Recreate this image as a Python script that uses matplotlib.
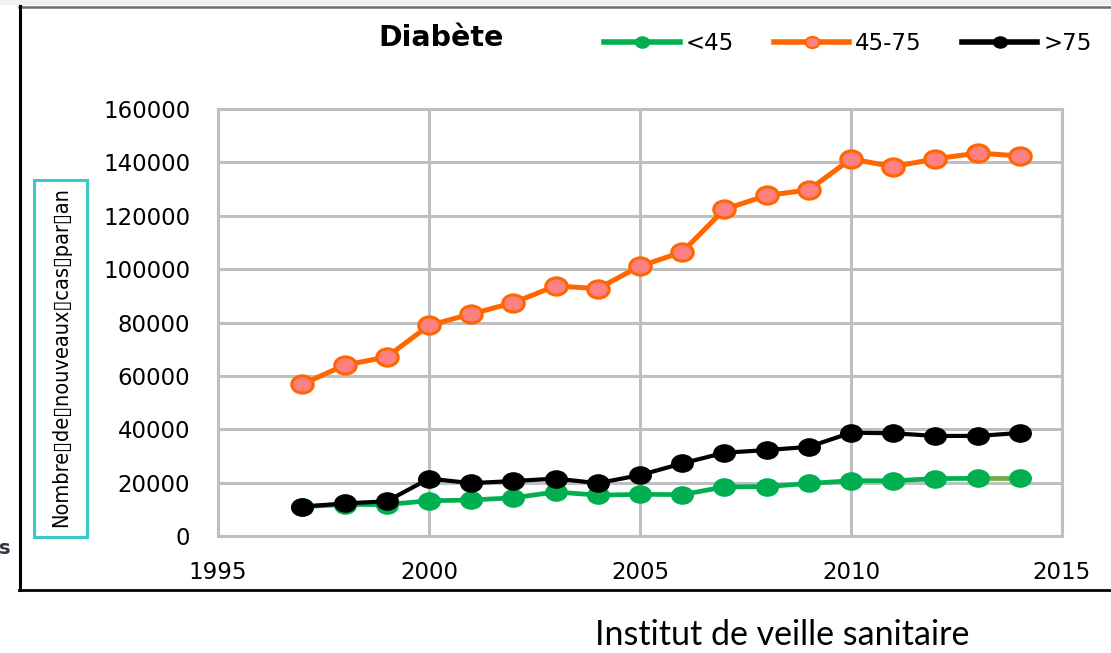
import numpy as np
import matplotlib
matplotlib.use('Agg')
import matplotlib.pyplot as plt
from matplotlib.path import Path
from matplotlib.patches import Rectangle
from matplotlib.lines import Line2D
from matplotlib import font_manager as fm

# ---------------- data ----------------
years = list(range(1997, 2015))
lt45 = [11000, 11800, 11800, 13200, 13500, 14300, 16500, 15300, 15600, 15500,
        18400, 18500, 19700, 20700, 20700, 21500, 21600, 21600]
mid45_75 = [56900, 64000, 67100, 78900, 83200, 87400, 93700, 92700, 101100, 106400,
            122400, 127600, 129700, 141300, 138400, 141300, 143500, 142400]
gt75 = [11000, 12200, 13000, 21500, 19800, 20600, 21500, 19800, 22800, 27200,
        31200, 32200, 33400, 38700, 38500, 37500, 37500, 38600]
series_labels = ['<45', '45-75', '>75']
xticks = [1995, 2000, 2005, 2010, 2015]
yticks = [0, 20000, 40000, 60000, 80000, 100000, 120000, 140000, 160000]
title = 'Diabète'
ylabel = 'Nombre\u25afde\u25afnouveaux\u25afcas\u25afpar\u25afan'
source = 'Institut de veille sanitaire'

# ---------------- style ----------------
W, H = 1111, 653
fig = plt.figure(figsize=(W / 100, H / 100), dpi=100)
fig.patch.set_facecolor('white')

def fx(px):
    return px / W

def fy(py):
    return 1 - py / H

names = {f.name for f in fm.fontManager.ttflist}
src_font = 'Liberation Sans Narrow' if 'Liberation Sans Narrow' in names else 'Lato'

ax = fig.add_axes([fx(218), fy(536), fx(1062) - fx(218), fy(109) - fy(536)])
ax.set_xlim(1995, 2015)
ax.set_ylim(0, 160000)
ax.set_xticks(xticks)
ax.set_yticks(yticks)
ax.set_xticklabels([str(t) for t in xticks], fontsize=16.5)
ax.set_yticklabels([str(t) for t in yticks], fontsize=16.5)
ax.tick_params(axis='x', length=0, pad=18)
ax.tick_params(axis='y', length=0, pad=20)
ax.grid(True, color='#BFBFBF', linewidth=2.2)
ax.set_axisbelow(True)
for s in ax.spines.values():
    s.set_color('#BFBFBF')
    s.set_linewidth(2.2)

circ = Path.unit_circle()
ell = Path(circ.vertices * np.array([1.0, 0.8]), circ.codes)

green = '#00B050'
green_light = '#70AD47'
orange = '#FF6600'
pink = '#FF8080'

# <45 line: last segment drawn in a lighter green
ax.plot(years[:-1], lt45[:-1], color=green, lw=3.4, zorder=3)
ax.plot(years[-2:], lt45[-2:], color=green_light, lw=3.4, zorder=3)
ax.plot(years, lt45, ls='none', marker=ell, ms=15.5, color=green, mec=green, zorder=4)

ax.plot(years, mid45_75, color=orange, lw=3.6, marker=ell, ms=15.5, mfc=pink,
        mec=orange, mew=2.2, zorder=5)
ax.plot(years, gt75, color='black', lw=3.0, marker=ell, ms=15.5, mfc='black',
        mec='black', zorder=6)

# legend
handles = [
    Line2D([], [], color=green, lw=4, marker=ell, ms=10, mfc=green, mec=green),
    Line2D([], [], color=orange, lw=4, marker=ell, ms=10, mfc=pink, mec=orange, mew=1.5),
    Line2D([], [], color='black', lw=4, marker=ell, ms=10, mfc='black', mec='black'),
]
fig.legend(handles, series_labels, loc='center left', bbox_to_anchor=(fx(604), fy(44)),
           ncol=3, frameon=False, fontsize=16.5, handlelength=3.3, handletextpad=0.25,
           columnspacing=1.75, borderpad=0, borderaxespad=0)

fig.text(fx(441), fy(38), title, fontsize=20.5, fontweight='bold', ha='center', va='center')

# y-axis label in a cyan box
fig.add_artist(Rectangle((fx(34), fy(537)), fx(87) - fx(34), fy(180) - fy(537),
                         transform=fig.transFigure, fill=False, ec='#3CC8C8', lw=2.2))
fig.text(fx(61), fy(357), ylabel, rotation=90, fontsize=15.6, ha='center', va='center',
         fontstretch='condensed')

# outer frame
fig.add_artist(Rectangle((0, fy(5)), 1, 1 - fy(5), transform=fig.transFigure,
                         color='#F0F0F0', lw=0))
fig.add_artist(Line2D([fx(19), 1], [fy(6.5), fy(6.5)], transform=fig.transFigure,
                      color='#6E6E6E', lw=1.8))
fig.add_artist(Line2D([fx(19.5), fx(19.5)], [fy(6), fy(590)], transform=fig.transFigure,
                      color='black', lw=2.2))
fig.add_artist(Line2D([fx(19), 1], [fy(589.5), fy(589.5)], transform=fig.transFigure,
                      color='black', lw=2.0))

fig.text(fx(-1), fy(548), 's', fontsize=14, fontweight='bold', color='#333344',
         ha='left', va='center')

fig.text(fx(782), fy(635), source, fontsize=24.5, family=src_font, ha='center', va='center')

fig.savefig('out.png', dpi=100)
